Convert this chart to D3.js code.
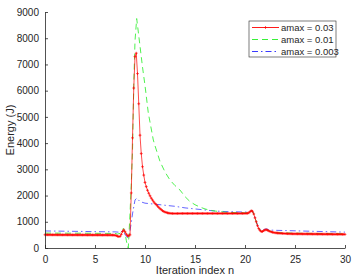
<!DOCTYPE html>
<html>
<head>
<meta charset="utf-8">
<script src="https://d3js.org/d3.v7.min.js"></script>
<style>
  body { margin: 0; background: #fff; }
  text { font-family: "Liberation Sans", Arial, sans-serif; fill: #262626; }
</style>
</head>
<body>
<div id="chart"></div>
<script>
// amax = 0.03, sampled every 0.125 iterations (one row per unit of n)
var redStep = 0.125;
var redVals = [
  505,504,504,503,503,502,502,502,
  501,501,501,500,500,500,500,500,
  500,500,499,499,499,499,498,498,
  498,498,498,497,497,497,497,497,
  497,496,496,496,496,496,496,495,
  495,495,495,495,495,494,494,494,
  494,494,494,493,493,493,492,490,
  485,470,450,435,440,520,630,690,
  620,530,470,460,500,2100,4200,6100,
  7300,7430,6650,5500,4300,3600,3100,2780,
  2500,2340,2200,2090,1990,1900,1830,1760,
  1700,1650,1600,1550,1500,1460,1420,1395,
  1370,1355,1340,1330,1322,1318,1316,1315,
  1315,1315,1316,1316,1316,1317,1317,1317,
  1317,1317,1317,1317,1317,1317,1317,1317,
  1317,1317,1317,1317,1317,1317,1317,1317,
  1317,1317,1317,1317,1317,1317,1317,1317,
  1317,1317,1317,1317,1317,1317,1317,1317,
  1317,1317,1317,1317,1317,1317,1317,1317,
  1317,1317,1317,1317,1317,1317,1317,1318,
  1318,1320,1325,1340,1380,1420,1400,1300,
  1150,1000,850,740,670,625,630,660,
  690,695,680,655,630,615,600,590,
  580,575,570,565,560,558,555,553,
  550,548,546,545,543,542,541,540,
  540,539,538,538,537,537,536,536,
  535,535,534,534,533,533,532,532,
  531,531,530,530,529,529,528,528,
  527,527,526,526,525,525,524,524,
  523,523,523,522,522,522,521,521,
  520
];

// amax = 0.01  [n, energy]
var greenPts = [
  [0,570],[1,568],[2,566],[3,565],[4,563],[5,561],[6,558],[7,555],
  [7.25,530],[7.5,560],[7.75,720],[7.875,740],[8,600],[8.125,300],[8.25,60],[8.33,0],
  [8.5,1300],[8.625,2400],[8.75,3700],[8.875,6200],[9,7900],[9.17,8750],
  [9.5,7700],[9.75,6900],[10,6200],[10.33,5150],[10.5,4800],[10.83,4120],[11,3900],
  [11.5,3300],[12,2900],[12.5,2590],[13,2380],[13.5,2210],[14,1960],[14.5,1770],
  [15,1650],[15.5,1560],[16,1490],[16.5,1440],[17,1410],[17.5,1385],[18,1365],
  [19,1350],[20,1340],[20.375,1350],[20.5,1380],[20.625,1420],[20.75,1400],[20.875,1300],
  [21,1150],[21.25,850],[21.5,680],[21.625,635],[21.75,640],[22,700],[22.125,705],
  [22.375,660],[22.75,610],[23,595],[24,575],[25,565],[26,560],[27,555],[28,552],
  [29,548],[30,545]
];

// amax = 0.003  [n, energy]
var bluePts = [
  [0,650],[1,645],[2,640],[3,635],[4,630],[5,625],[6,620],[7,615],[7.5,600],
  [7.75,650],[7.875,640],[8,520],[8.25,400],[8.4,420],[8.6,900],[8.75,1300],
  [9,1830],[9.17,1900],[9.5,1770],[10,1710],[11,1670],[12,1630],[13,1590],
  [14,1530],[15,1490],[16,1450],[17,1410],[18,1390],[19,1380],[20,1370],
  [20.375,1375],[20.5,1390],[20.625,1420],[20.75,1400],[20.875,1300],[21,1160],
  [21.25,870],[21.5,700],[21.625,660],[21.75,670],[22,720],[22.125,730],
  [22.375,700],[22.75,680],[23,675],[24,665],[25,655],[26,645],[27,635],
  [28,625],[29,615],[30,605]
];

var xTicks = [0, 5, 10, 15, 20, 25, 30];
var yTicks = [0, 1000, 2000, 3000, 4000, 5000, 6000, 7000, 8000, 9000];
var legendLabels = ["amax = 0.03", "amax = 0.01", "amax = 0.003"];

var W = 353, H = 280;
var margin = {top: 12, right: 8, bottom: 32, left: 45};
var width = W - margin.left - margin.right,
    height = H - margin.top - margin.bottom;

var svg = d3.select("#chart").append("svg")
    .attr("width", W).attr("height", H);
var g = svg.append("g")
    .attr("transform", "translate(" + margin.left + "," + margin.top + ")");

var x = d3.scaleLinear().domain([0, 30]).range([0, width]);
var y = d3.scaleLinear().domain([0, 9000]).range([height, 0]);

var redPts = redVals.map(function(v, i) { return [i * redStep, v]; });

var line = d3.line()
    .x(function(d) { return x(d[0]); })
    .y(function(d) { return y(d[1]); });

// series
g.append("path").datum(bluePts)
    .attr("d", line).attr("fill", "none")
    .attr("stroke", "#2222ff").attr("stroke-width", 0.7)
    .attr("stroke-dasharray", "6,3,1.5,3");

g.append("path").datum(greenPts)
    .attr("d", line).attr("fill", "none")
    .attr("stroke", "#22ee22").attr("stroke-width", 0.8)
    .attr("stroke-dasharray", "6,4");

g.append("path").datum(redPts)
    .attr("d", line).attr("fill", "none")
    .attr("stroke", "#ff0000").attr("stroke-width", 0.7);

// small "+" markers drawn as strokes
var mk = 1.4;
g.append("g").selectAll("path").data(redPts).enter()
  .append("path")
    .attr("d", "M" + (-mk) + ",0H" + mk + "M0," + (-mk) + "V" + mk)
    .attr("transform", function(d) { return "translate(" + x(d[0]) + "," + y(d[1]) + ")"; })
    .attr("stroke", "#ff0000").attr("stroke-width", 0.7).attr("fill", "none");

// axes (MATLAB style, inward ticks)
var fmt = d3.format("d");
var xAxis = g.append("g")
    .attr("transform", "translate(0," + height + ")")
    .call(d3.axisBottom(x).tickValues(xTicks).tickFormat(fmt).tickSizeInner(-3).tickSizeOuter(0).tickPadding(8));
var yAxis = g.append("g")
    .call(d3.axisLeft(y).tickValues(yTicks).tickFormat(fmt).tickSizeInner(-3).tickSizeOuter(0).tickPadding(6));

[xAxis, yAxis].forEach(function(a) {
  a.select(".domain").attr("stroke", "#262626").attr("stroke-width", 0.8);
  a.selectAll(".tick line").attr("stroke", "#262626").attr("stroke-width", 0.8);
  a.selectAll(".tick text").attr("font-size", 10)
    .attr("font-family", "Liberation Sans, Arial, sans-serif").attr("fill", "#262626");
});

// axis labels
svg.append("text")
    .attr("x", margin.left + width / 2).attr("y", 274)
    .attr("text-anchor", "middle").attr("font-size", 11)
    .text("Iteration index n");

svg.append("text")
    .attr("transform", "translate(14," + (margin.top + height / 2) + ") rotate(-90)")
    .attr("text-anchor", "middle").attr("font-size", 11)
    .text("Energy (J)");

// legend
var lg = svg.append("g").attr("transform", "translate(249,21)");
lg.append("rect").attr("width", 87).attr("height", 36)
    .attr("fill", "#fff").attr("stroke", "#262626").attr("stroke-width", 0.6);

var styles = [
  {c: "#ff0000", dash: null},
  {c: "#22ee22", dash: "6,4"},
  {c: "#2222ff", dash: "6,3,1.5,3"}
];
legendLabels.forEach(function(t, i) {
  var yy = 6.5 + i * 12;
  lg.append("line").attr("x1", 3).attr("x2", 30).attr("y1", yy).attr("y2", yy)
    .attr("stroke", styles[i].c).attr("stroke-width", 0.9)
    .attr("stroke-dasharray", styles[i].dash);
  if (i === 0) {
    lg.append("path")
      .attr("d", "M" + (-mk) + ",0H" + mk + "M0," + (-mk) + "V" + mk)
      .attr("stroke", "#ff0000").attr("stroke-width", 0.7)
      .attr("transform", "translate(16.5," + yy + ")");
  }
  lg.append("text").attr("x", 32).attr("y", yy + 3.5)
    .attr("font-size", 9.5).text(t);
});
</script>
</body>
</html>
